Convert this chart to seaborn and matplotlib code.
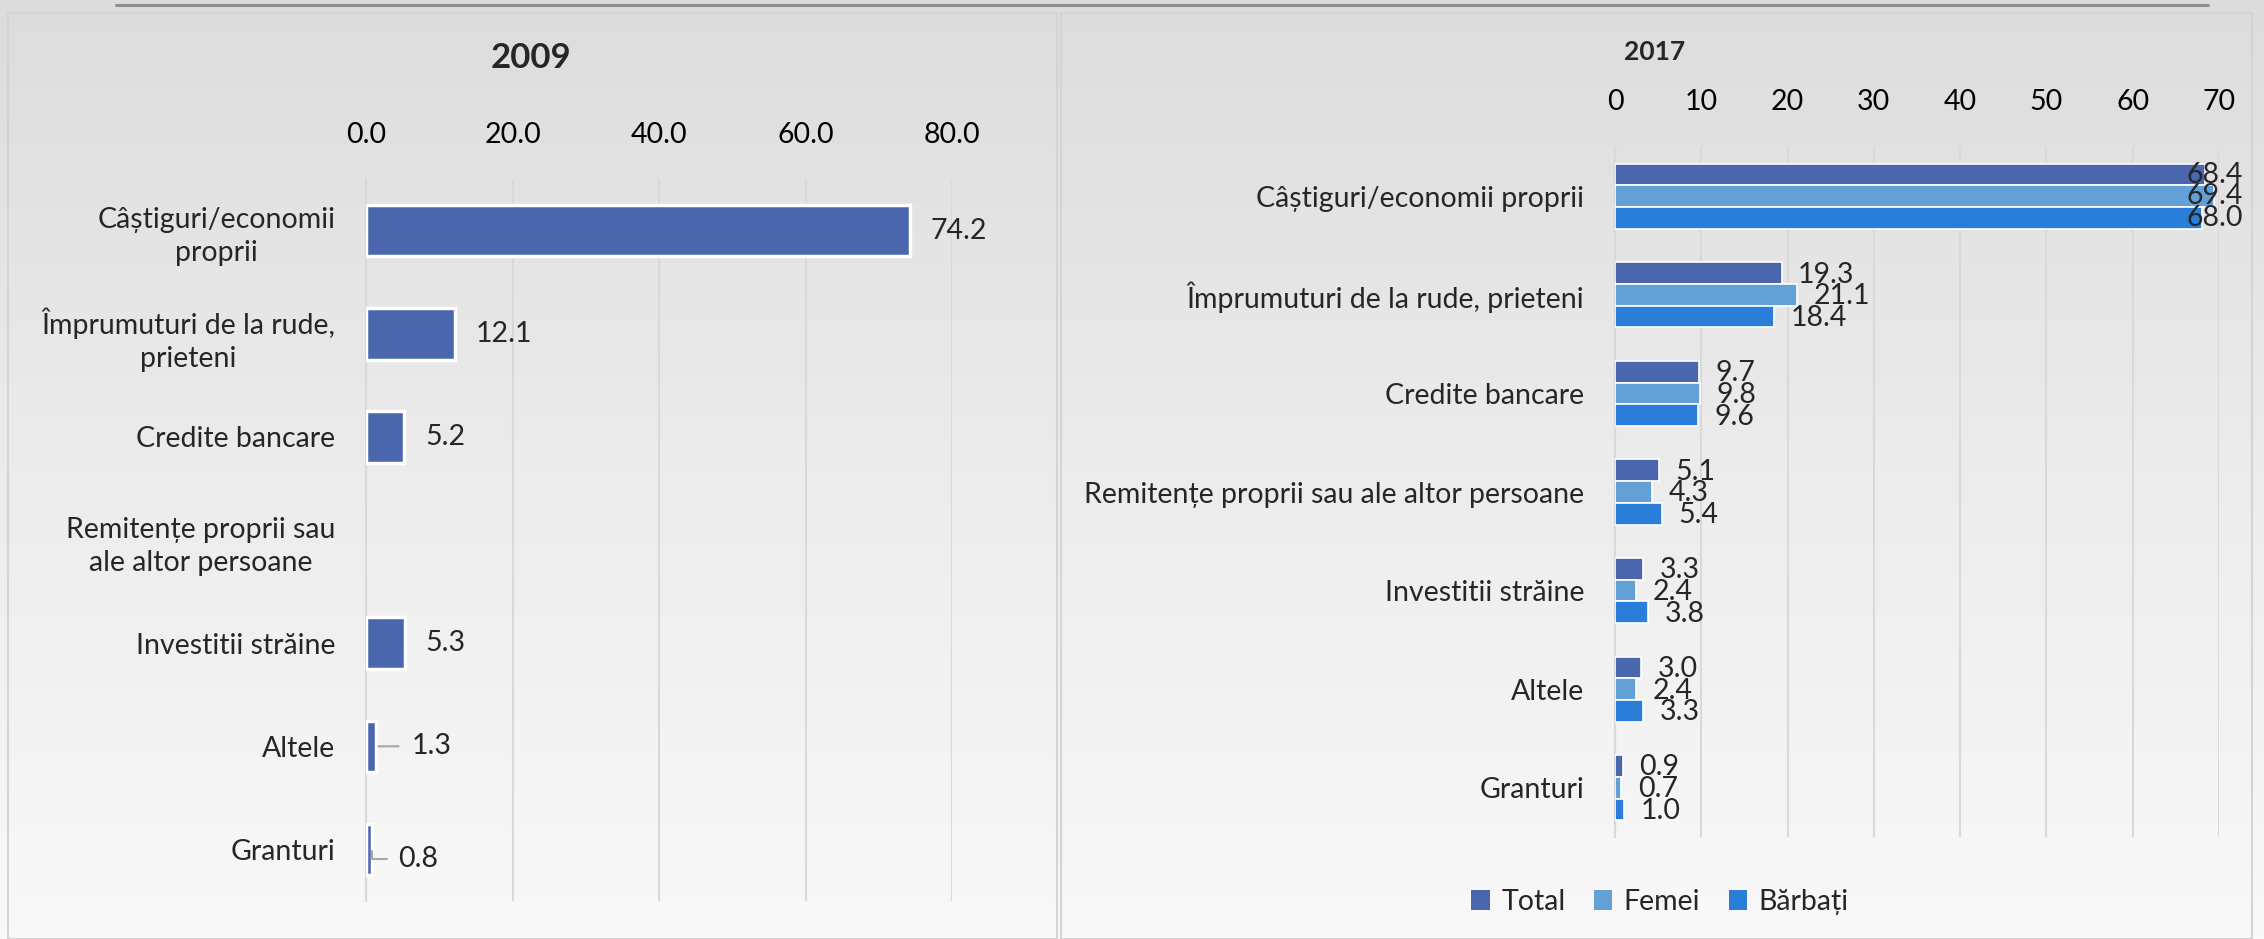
import numpy as np
import pandas as pd
import seaborn as sns
import matplotlib.pyplot as plt
from matplotlib.colors import LinearSegmentedColormap
from matplotlib.patches import Rectangle, Patch
from matplotlib.lines import Line2D

# --- data ---
cats_2009 = [
    "Câștiguri/economii\nproprii",
    "Împrumuturi de la rude,\nprieteni",
    "Credite bancare",
    "Remitențe proprii sau\nale altor persoane",
    "Investitii străine",
    "Altele",
    "Granturi",
]
vals_2009 = [74.2, 12.1, 5.2, np.nan, 5.3, 1.3, 0.8]

cats_2017 = [
    "Câștiguri/economii proprii",
    "Împrumuturi de la rude, prieteni",
    "Credite bancare",
    "Remitențe proprii sau ale altor persoane",
    "Investitii străine",
    "Altele",
    "Granturi",
]
total_2017 = [68.4, 19.3, 9.7, 5.1, 3.3, 3.0, 0.9]
femei_2017 = [69.4, 21.1, 9.8, 4.3, 2.4, 2.4, 0.7]
barbati_2017 = [68.0, 18.4, 9.6, 5.4, 3.8, 3.3, 1.0]
series_names = ["Total", "Femei", "Bărbați"]
series_colors = ["#4A66AC", "#62A0D6", "#2A7DD8"]

ticks_2009 = [0, 20, 40, 60, 80]
ticks_2017 = [0, 10, 20, 30, 40, 50, 60, 70]

sns.set_style("white")
plt.rcParams["font.family"] = ["Lato", "DejaVu Sans"]
FS = 20.5
GRID = "#d9d9d9"

W, H = 2264, 939
fig = plt.figure(figsize=(W / 100, H / 100), dpi=100)


def fx(px):
    return px / W


def fy(py):
    return 1 - py / H


# background gradient
bg = fig.add_axes([0, 0, 1, 1], zorder=-10)
grad = np.linspace(0, 1, 256).reshape(-1, 1)
cmap = LinearSegmentedColormap.from_list("bg", ["#dcdcdc", "#ececec", "#f9f9f9"])
bg.imshow(grad, aspect="auto", cmap=cmap, extent=[0, 1, 0, 1])
bg.axis("off")

# panel frames and the top rule
for x0, x1 in [(8, 1057), (1061, 2252)]:
    fig.patches.append(Rectangle((fx(x0), 0), fx(x1) - fx(x0), fy(13), transform=fig.transFigure,
                                 fill=False, edgecolor="#d4d4d4", lw=1.5))
fig.lines.append(Line2D([fx(116), fx(2208)], [fy(5), fy(5)], transform=fig.transFigure,
                        color="#8f8f8f", lw=2.2))

# ---------------- 2009 ----------------
ax1 = fig.add_axes([fx(366), fy(901), fx(952) - fx(366), fy(179) - fy(901)])
ax1.patch.set_alpha(0)
df09 = pd.DataFrame({"cat": cats_2009, "val": vals_2009})
sns.barplot(data=df09, x="val", y="cat", order=cats_2009, orient="h", color=series_colors[0],
            saturation=1, width=0.5, edgecolor="white", linewidth=2.5, errorbar=None,
            ax=ax1, zorder=3)
ax1.set_xlim(0, 80)
ax1.set_ylim(len(cats_2009) - 0.5, -0.5)
ax1.set_xticks(ticks_2009)
ax1.set_xticklabels([f"{t:.1f}" for t in ticks_2009])
ax1.xaxis.tick_top()
ax1.tick_params(axis="x", length=0, pad=22, labelsize=FS, colors="black")
ax1.tick_params(axis="y", length=0, pad=22, labelsize=FS)
ax1.set_yticks(np.arange(-0.5, len(cats_2009), 1), minor=True)
ax1.tick_params(axis="y", which="minor", length=9, width=1.5, color=GRID)
for lbl in ax1.get_yticklabels():
    lbl.set_multialignment("center")
    lbl.set_linespacing(1.35)
ax1.grid(axis="x", color=GRID, lw=1.5)
ax1.grid(axis="y", visible=False)
ax1.set_axisbelow(True)
ax1.set_xlabel("")
ax1.set_ylabel("")
for s in ["top", "right", "bottom"]:
    ax1.spines[s].set_visible(False)
ax1.spines["left"].set_color(GRID)
ax1.spines["left"].set_linewidth(1.5)

for i, v in enumerate(vals_2009):
    if np.isnan(v):
        continue
    txt = f"{v:.1f}"
    if v >= 2:
        ax1.annotate(txt, (v, i), xytext=(15, 0), textcoords="offset points",
                     ha="left", va="center", fontsize=FS)
    elif v >= 1:
        ax1.annotate(txt, (v, i), xytext=(26, 0), textcoords="offset points",
                     ha="left", va="center", fontsize=FS,
                     arrowprops=dict(arrowstyle="-", color="#a6a6a6", lw=1.5,
                                     shrinkA=7, shrinkB=2))
    else:
        ax1.annotate(txt, (v, i), xytext=(19, -7), textcoords="offset points",
                     ha="left", va="center", fontsize=FS,
                     arrowprops=dict(arrowstyle="-", color="#a6a6a6", lw=1.5,
                                     shrinkA=6, shrinkB=1,
                                     connectionstyle="angle,angleA=0,angleB=90,rad=0"))

fig.text(fx(531), fy(58), "2009", ha="center", va="center", fontsize=25, fontweight="bold")

# ---------------- 2017 ----------------
ax2 = fig.add_axes([fx(1615), fy(837), fx(2219) - fx(1615), fy(147) - fy(837)])
ax2.patch.set_alpha(0)
df17 = pd.DataFrame({
    "cat": cats_2017 * 3,
    "series": np.repeat(series_names, len(cats_2017)),
    "val": total_2017 + femei_2017 + barbati_2017,
})
sns.barplot(data=df17, x="val", y="cat", hue="series", order=cats_2017, hue_order=series_names,
            palette=series_colors, saturation=1, orient="h", width=0.66, edgecolor="white",
            linewidth=1.2, errorbar=None, legend=False, ax=ax2, zorder=3)
ax2.set_xlim(0, 70)
ax2.set_ylim(len(cats_2017) - 0.5, -0.5)
ax2.set_xticks(ticks_2017)
ax2.xaxis.tick_top()
ax2.tick_params(axis="x", length=0, pad=23, labelsize=FS, colors="black")
ax2.tick_params(axis="y", length=0, pad=22, labelsize=FS)
ax2.grid(axis="x", color=GRID, lw=1.5)
ax2.grid(axis="y", visible=False)
ax2.set_axisbelow(True)
ax2.set_xlabel("")
ax2.set_ylabel("")
for s in ["top", "right", "bottom"]:
    ax2.spines[s].set_visible(False)
ax2.spines["left"].set_color(GRID)
ax2.spines["left"].set_linewidth(1.5)

for cont in ax2.containers:
    for bar in cont:
        v = bar.get_width()
        yc = bar.get_y() + bar.get_height() / 2
        if v > 65:
            ax2.annotate(f"{v:.1f}", (1.04, yc), xycoords=("axes fraction", "data"),
                         ha="right", va="center", fontsize=FS)
        else:
            ax2.annotate(f"{v:.1f}", (v, yc), xytext=(12, -1), textcoords="offset points",
                         ha="left", va="center", fontsize=FS)

fig.text(fx(1655), fy(52), "2017", ha="center", va="center", fontsize=19, fontweight="bold")

handles = [Patch(facecolor=c, edgecolor="none") for c in series_colors]
fig.legend(handles, series_names, loc="center", bbox_to_anchor=(fx(1660), fy(902)), ncol=3,
           frameon=False, fontsize=FS, handlelength=0.65, handleheight=0.65,
           handletextpad=0.4, columnspacing=1.0)

fig.savefig("out.png", dpi=100)
